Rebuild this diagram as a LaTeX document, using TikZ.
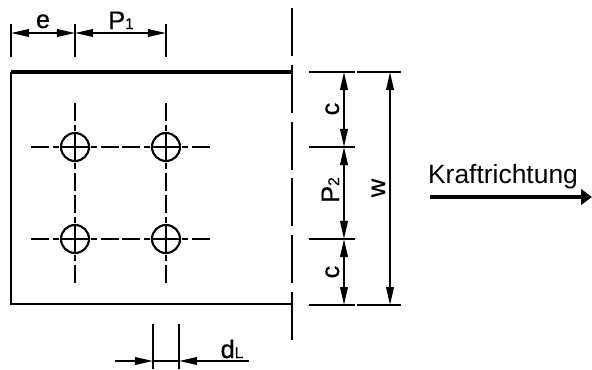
\documentclass[tikz,border=0pt]{standalone}
\usepackage{fontspec}
\setmainfont{Liberation Sans}
\newfontfamily\dimfont[FakeBold=0.6]{Liberation Sans}
\usetikzlibrary{arrows.meta}
\newcommand{\smalltxt}[1]{{\fontsize{11}{11}\selectfont #1}}
\tikzset{
    plate/.style={line width=1.7pt},
    cutline/.style={line width=1.5pt, dash pattern=on 48*0.709pt off 9*0.709pt},
    centerline/.style={line width=1.4pt, dash pattern=on 13*0.709pt off 3*0.709pt on 6*0.709pt off 4*0.709pt on 18.5*0.709pt off 9*0.709pt},
    hole/.style={line width=1.5pt},
    extline/.style={line width=1.2pt},
    dimline/.style={line width=1.2pt, >={Stealth[length=0.45cm, width=0.19cm, inset=0pt]}},
    dimlabel/.style={font=\dimfont\fontsize{18}{18}\selectfont, inner sep=0pt, anchor=base}
}
\begin{document}
\begin{tikzpicture}[x=0.025cm, y=-0.025cm]
    \useasboundingbox (0,0) rectangle (592,369);
    % plate outline
    \draw[plate, line width=2.3pt] (11,72) -- (292,72);
    \draw[plate] (292,304) -- (11,304) -- (11,72);
    \draw[cutline] (292,8) -- (292,340);
    % holes and their centre lines
    \foreach \x in {75,166}{
        \foreach \y in {147,239}{
            \draw[hole] (\x,\y) circle (14);
            \foreach \dir in {0,90,180,270}{
                \draw[centerline] (\x,\y) -- ++(\dir:44.5);
            }
        }
    }
    % top dimensions
    \foreach \x in {11,75,166}{
        \draw[extline] (\x,24) -- (\x,57);
    }
    \draw[dimline, <->] (11,33) -- (75,33);
    \draw[dimline, <->] (75,33) -- (166,33);
    \node[dimlabel] (labelE) at (43,28) {e};
    \node[dimlabel] (labelPa) at (121,29) {P\smalltxt{1}};
    % right dimensions
    \foreach \y in {72,147,239,305}{
        \draw[extline] (309,\y) -- (355,\y);
    }
    \draw[extline] (357,72) -- (401,72);
    \draw[extline] (357,305) -- (401,305);
    \draw[dimline, <->] (344,72) -- (344,147);
    \draw[dimline, <->] (344,147) -- (344,239);
    \draw[dimline, <->] (344,239) -- (344,305);
    \draw[dimline, <->] (390,72) -- (390,305);
    \node[dimlabel, rotate=90] (labelCa) at (339,109) {c};
    \node[dimlabel, rotate=90] (labelPb) at (339,190) {P\smalltxt{2}};
    \node[dimlabel, rotate=90] (labelCb) at (339,272) {c};
    \node[dimlabel, rotate=90] (labelW) at (385,188) {w};
    % hole diameter
    \draw[extline] (153,324) -- (153,369);
    \draw[extline] (179,324) -- (179,369);
    \draw[dimline, ->] (115,361) -- (153,361);
    \draw[dimline] (153,361) -- (179,361);
    \draw[dimline, ->] (249,361) -- (179,361);
    \node[dimlabel] (labelD) at (232,358) {d\smalltxt{L}};
    % force direction
    \node[inner sep=0pt, anchor=base, font=\fontsize{18.8}{18.8}\selectfont] (force) at (503,183) {Kraftrichtung};
    \draw[line width=3.2pt, -{Triangle[length=0.27cm, width=0.38cm]}] (430,197) -- (592,197);
\end{tikzpicture}
\end{document}
